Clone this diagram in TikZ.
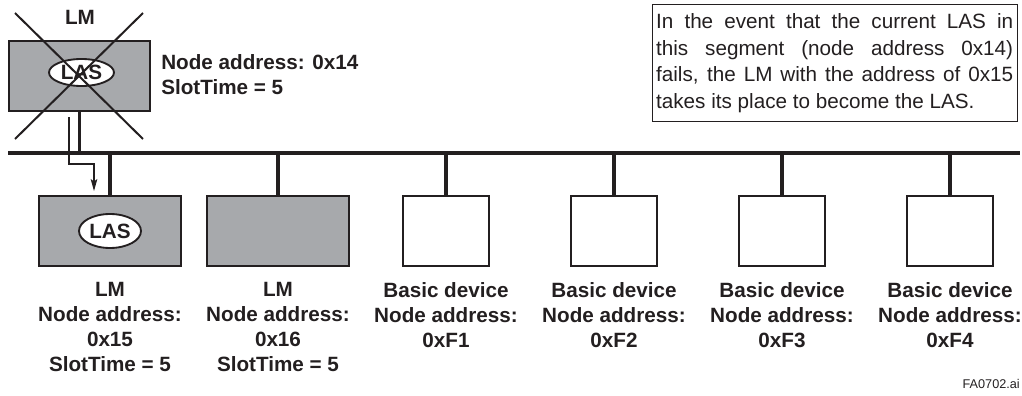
\documentclass[tikz,border=0pt]{standalone}
\usepackage{fontspec}
\setmainfont{Liberation Sans}
\usetikzlibrary{arrows.meta,shapes.geometric}
\definecolor{boxgray}{RGB}{167,169,172}
\definecolor{ink}{RGB}{35,31,32}
\begin{document}
\begin{tikzpicture}[x=.75pt,y=-.75pt,line width=1.9pt,color=ink,
font=\bfseries\fontsize{15.5}{18.75}\selectfont,
lmbox/.style={rectangle,draw,fill=boxgray,minimum width=106.5pt,minimum height=52.5pt,inner sep=0pt},
devbox/.style={rectangle,draw,fill=white,minimum width=64.5pt,minimum height=52.5pt,inner sep=0pt},
lasmark/.style={ellipse,draw,fill=white,line width=1.4pt,inner sep=0pt},
devlabel/.style={anchor=north,align=center,inner sep=0pt},
bus/.style={line width=2.6pt},
stub/.style={line width=2.4pt}]
\useasboundingbox (0,0) rectangle (1022,396);
% segment bus
\coordinate (busl) at (8,153);
\coordinate (busr) at (1020,153);
\draw[bus] (busl)--(busr);
% failed LAS (0x14)
\node[lmbox,minimum width=105.75pt] (oldlm) at (79.5,76) {};
\node[lasmark,minimum width=48.75pt,minimum height=20.25pt] (oldlas) at (81.5,72.5) {LAS};
\draw[stub] (oldlm.south)--(oldlm.south |- busl);
\node[anchor=base] (oldlmtag) at (80,25) {LM};
\node[anchor=north west,align=left,inner sep=0pt] (oldlminfo) at (160,53) {Node address: 0x14\\SlotTime = 5};
\coordinate (xa) at (15,13);
\coordinate (xb) at (143,139);
\coordinate (xc) at (143,13);
\coordinate (xd) at (15,139);
\draw[line width=1.5pt] (xa)--(xb);
\draw[line width=1.5pt] (xc)--(xd);
% devices on the bus
\node[lmbox] (newlm) at (110,231) {};
\node[lasmark,minimum width=46.5pt,minimum height=25.5pt] (newlas) at (110,231) {LAS};
\node[lmbox] (sparelm) at (278,231) {};
\node[devbox] (devf1) at (446,231) {};
\node[devbox] (devf2) at (614,231) {};
\node[devbox] (devf3) at (782,231) {};
\node[devbox] (devf4) at (950,231) {};
\draw[stub] (newlm.north)--(newlm.north |- busl);
\draw[stub] (sparelm.north)--(sparelm.north |- busl);
\draw[stub] (devf1.north)--(devf1.north |- busl);
\draw[stub] (devf2.north)--(devf2.north |- busl);
\draw[stub] (devf3.north)--(devf3.north |- busl);
\draw[stub] (devf4.north)--(devf4.north |- busl);
% takeover
\coordinate (hs) at (69,117);
\coordinate (he) at (94,191);
\draw[line width=.8pt,-{Stealth[length=9pt,width=5pt,inset=2pt]}] (hs)--(69,164)-|(he);
% labels
\node[devlabel] (newlmlbl) at (110,281.5) {LM\\Node address:\\0x15\\SlotTime = 5};
\node[devlabel] (sparelmlbl) at (278,281.5) {LM\\Node address:\\0x16\\SlotTime = 5};
\node[devlabel] (devf1lbl) at (446,281.5) {Basic device\\Node address:\\0xF1};
\node[devlabel] (devf2lbl) at (614,281.5) {Basic device\\Node address:\\0xF2};
\node[devlabel] (devf3lbl) at (782,281.5) {Basic device\\Node address:\\0xF3};
\node[devlabel] (devf4lbl) at (950,281.5) {Basic device\\Node address:\\0xF4};
\node[draw,line width=1pt,anchor=north west,text width=267.75pt,inner xsep=3pt,inner ysep=7pt,
align=justify,font=\mdseries\fontsize{15.5}{19.9}\selectfont] (note) at (651.5,3.5)
{\tolerance=10000\hbadness=10000\hyphenpenalty=10000 In the event that the current LAS in\linebreak
this segment (node address 0x14)\linebreak
fails, the LM with the address of 0x15\linebreak
takes its place to become the LAS.};
\node[anchor=base east,inner sep=0pt,font=\mdseries\fontsize{9.5}{11}\selectfont] (figid) at (1021,388) {FA0702.ai};
\end{tikzpicture}
\end{document}
